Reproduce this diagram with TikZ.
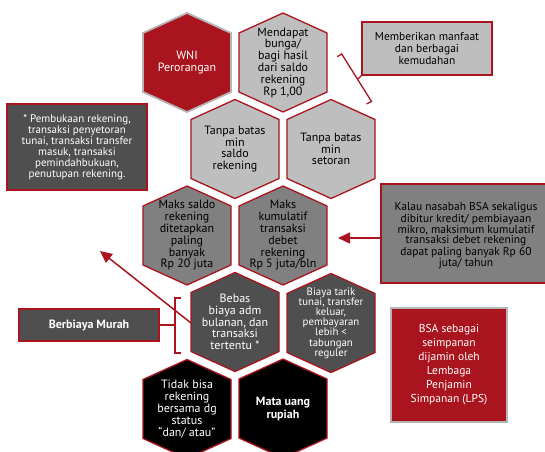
\documentclass[tikz,border=0pt]{standalone}
\usepackage{fontspec}
\setmainfont{PT Sans}
\usetikzlibrary{arrows.meta,calc}
\definecolor{bred}{HTML}{A9141E}
\definecolor{lgray}{HTML}{BEBEBE}
\definecolor{mgray}{HTML}{808080}
\definecolor{dgray}{HTML}{4F4F4F}
\definecolor{bord}{HTML}{B5B5B5}
\newcommand\honeycell[6]{% name, x, y, shape style, text style, text
  \path[#4] (#2,#3) ++(0,-49.5) -- ++(44,20) -- ++(0,59) -- ++(-44,20) -- ++(-44,-20) -- ++(0,-59) -- cycle;
  \node[celltext,#5] (#1) at (#2,#3) {#6};
}
\tikzset{
  hexlight/.style={fill=lgray, draw=bred, line width=1.3pt},
  hexmid/.style={fill=mgray, draw=bred, line width=1.3pt},
  hexdark/.style={fill=dgray, draw=bred, line width=1.3pt},
  hexblack/.style={fill=black, draw=bred, line width=1.3pt},
  hexred/.style={fill=bred, draw=bord, line width=1.8pt},
  celltext/.style={align=center, inner sep=0pt, font=\fontsize{12}{11.8}\selectfont},
  blacktext/.style={text=black},
  whitetext/.style={text=white},
  infobox/.style={rectangle, draw=bred, line width=1.2pt, align=center, inner sep=0pt},
  redline/.style={draw=bred, line width=1.3pt},
  redarrow/.style={draw=bred, line width=1.5pt, -{Triangle[length=12pt,width=11pt]}},
}
\begin{document}
\begin{tikzpicture}[x=1pt,y=-1pt]
\clip (0,0) rectangle (545,451);
\fill[white] (0,0) rectangle (545,451);

% row 1
\honeycell{wni}{187}{62.5}{hexred}{whitetext}{WNI\\Perorangan}
\honeycell{bunga}{283}{62.5}{hexlight}{blacktext}{Mendapat\\bunga/\\bagi hasil\\dari saldo\\rekening\\Rp 1,00}
% row 2
\honeycell{saldo}{235}{149}{hexlight}{blacktext}{Tanpa batas\\min\\saldo\\rekening}
\honeycell{setoran}{331}{149}{hexlight}{blacktext}{Tanpa batas\\min\\setoran}
% row 3
\honeycell{maks}{187}{235.5}{hexmid}{blacktext}{Maks saldo\\rekening\\ditetapkan\\paling\\banyak\\Rp 20 juta}
\honeycell{kumulatif}{283}{235.5}{hexmid}{blacktext}{Maks\\kumulatif\\transaksi\\debet\\rekening\\Rp 5 juta/bln}
% row 4
\honeycell{bebas}{235}{322}{hexdark}{whitetext}{Bebas\\biaya adm\\bulanan, dan\\transaksi\\tertentu *}
\honeycell{biaya}{331}{323}{hexdark}{whitetext,font=\fontsize{10.8}{10.2}\selectfont}{Biaya tarik\\tunai, transfer\\keluar,\\pembayaran\\lebih <\\tabungan\\reguler}
% row 5
\honeycell{tidak}{187}{409}{hexblack}{whitetext}{Tidak bisa\\rekening\\bersama dg\\status\\“dan/ atau”}
\honeycell{mata}{283}{408.5}{hexblack}{whitetext,font=\fontsize{12}{13}\selectfont\bfseries}{Mata uang\\rupiah}

% boxes
\node[infobox, fill=lgray, text=black, minimum width=130pt, minimum height=53pt,
      font=\fontsize{11.5}{12}\selectfont] (manfaat) at (427,48.5) {Memberikan manfaat\\dan berbagai\\kemudahan};
\node[infobox, fill=dgray, text=white, minimum width=140pt, minimum height=86pt,
      font=\fontsize{11}{11}\selectfont] (pembukaan) at (77,147) {* Pembukaan rekening,\\transaksi penyetoran\\tunai, transaksi transfer\\masuk, transaksi\\pemindahbukuan,\\penutupan rekening.};
\node[infobox, fill=mgray, text=black, minimum width=165pt, minimum height=99pt] (kalaubox) at (463.5,233.5) {};
\node[align=center, inner sep=0pt, font=\fontsize{11.5}{10.6}\selectfont] (kalau) at (466,236) {Kalau nasabah BSA sekaligus\\dibitur kredit/ pembiayaan\\mikro, maksimum kumulatif\\transaksi debet rekening\\dapat paling banyak Rp 60\\juta/ tahun};
\node[infobox, fill=dgray, text=white, minimum width=140pt, minimum height=32pt,
      font=\fontsize{12}{12}\selectfont\bfseries] (murah) at (89,325) {Berbiaya Murah};
\node[infobox, fill=bred, draw=bord, line width=1.8pt, text=white, minimum width=116pt, minimum height=114pt,
      font=\fontsize{11.5}{14}\selectfont] (lps) at (449,365) {BSA sebagai\\seimpanan\\dijamin oleh\\Lembaga\\Penjamin\\Simpanan (LPS)};

% bracket near bunga
\coordinate (bA) at (337.3,56.7);
\coordinate (bB) at (341.7,54);
\coordinate (bC) at (371.5,101.5);
\coordinate (bD) at (366.5,104);
\coordinate (bM) at (358,79);
\draw[redline] (bA) -- (bB) -- (bC) -- (bD);
\draw[redline] (bM) -- (manfaat.south west);

% bracket near bebas
\coordinate (kT) at (175,298);
\coordinate (kB) at (175,353);
\coordinate (kM) at (175,325);
\coordinate (kTr) at (181,298);
\coordinate (kBr) at (181,353);
\draw[redline] (kTr) -- (kT) -- (kB) -- (kBr);
\draw[redline] (murah.east) -- (kM);

% arrows
\coordinate (kumtip) at (338,238);
\draw[redarrow] (kalaubox.west |- kumtip) -- (kumtip);
\coordinate (bebasfrom) at (191,323);
\coordinate (uptip) at (100,251);
\draw[redarrow] (bebasfrom) -- (uptip);
\end{tikzpicture}
\end{document}
